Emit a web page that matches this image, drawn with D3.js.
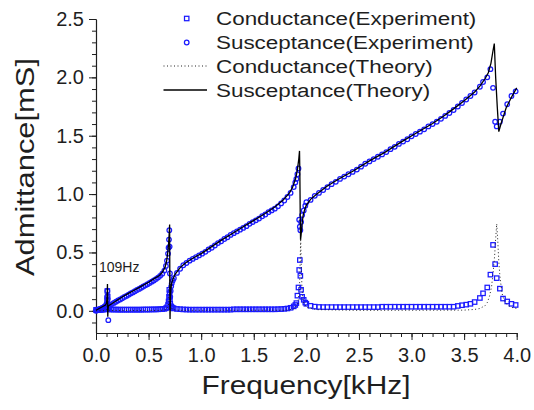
<!DOCTYPE html>
<html><head><meta charset="utf-8">
<script src="https://cdn.jsdelivr.net/npm/d3@7"></script>
<style>html,body{margin:0;padding:0;background:#fff;} svg{display:block;font-family:"Liberation Sans",Arial,sans-serif;}</style>
</head><body><svg id="c" width="534" height="410"></svg>
<script>
// ---------- DATA ----------
const xTickLabels = ["0.0","0.5","1.0","1.5","2.0","2.5","3.0","3.5","4.0"];
const yTickLabels = ["0.0","0.5","1.0","1.5","2.0","2.5"];
const seriesNames = ["Conductance(Experiment)","Susceptance(Experiment)","Conductance(Theory)","Susceptance(Theory)"];
const annotation = "109Hz";

// Theory susceptance (kHz, mS)
const thBFreq = [0.00,0.03,0.06,0.09,0.100,0.104,0.107,0.109,0.110,0.111,0.112,0.114,0.117,0.12,0.15,0.20,0.26,0.30,0.35,0.42,0.50,0.56,0.60,0.63,0.655,0.67,0.68,0.69,0.697,0.700,0.701,0.703,0.704,0.706,0.708,0.712,0.72,0.735,0.75,0.80,0.85,0.90,0.95,1.00,1.10,1.20,1.30,1.40,1.50,1.60,1.70,1.78,1.84,1.87,1.90,1.915,1.928,1.935,1.938,1.942,1.945,1.950,1.960,1.970,1.985,2.00,2.04,2.10,2.20,2.30,2.45,2.60,2.75,2.90,3.05,3.20,3.30,3.40,3.50,3.60,3.65,3.70,3.73,3.755,3.775,3.787,3.80,3.815,3.830,3.85,3.90,3.95,4.00];
const thB = [0.005,0.02,0.035,0.05,0.065,0.10,0.16,0.23,0.12,0.00,-0.05,0.00,0.035,0.045,0.06,0.09,0.125,0.145,0.17,0.205,0.245,0.28,0.30,0.33,0.37,0.42,0.48,0.57,0.68,0.74,0.5,0.0,-0.07,0.03,0.12,0.19,0.24,0.28,0.31,0.37,0.41,0.44,0.465,0.49,0.55,0.61,0.665,0.72,0.775,0.83,0.89,0.95,1.01,1.06,1.14,1.21,1.30,1.37,1.20,0.80,0.61,0.65,0.75,0.82,0.87,0.905,0.955,1.00,1.07,1.125,1.20,1.285,1.36,1.445,1.525,1.605,1.665,1.73,1.80,1.875,1.925,1.99,2.04,2.12,2.23,2.29,2.0,1.75,1.535,1.60,1.74,1.83,1.91];

// Theory conductance (kHz, mS)
const thGFreq = [0.00,0.09,0.10,0.105,0.108,0.109,0.110,0.112,0.115,0.13,0.60,0.67,0.69,0.697,0.700,0.702,0.704,0.707,0.712,0.73,0.80,1.80,1.88,1.92,1.935,1.942,1.946,1.950,1.958,1.97,2.00,2.10,2.50,3.50,3.60,3.65,3.70,3.72,3.74,3.76,3.775,3.79,3.80,3.81,3.82,3.83,3.84,3.86,3.88,3.91,3.95,4.00];
const thG = [0.0,0.002,0.01,0.05,0.15,0.2,0.15,0.05,0.01,0.003,0.003,0.01,0.05,0.15,0.3,0.35,0.25,0.1,0.03,0.01,0.004,0.005,0.015,0.06,0.2,0.45,0.62,0.45,0.2,0.08,0.03,0.01,0.004,0.006,0.012,0.02,0.045,0.07,0.12,0.2,0.32,0.47,0.62,0.745,0.6,0.42,0.30,0.15,0.09,0.05,0.03,0.02];

// Experiment (kHz)
const expFreq = [
 0.000,0.010,0.020,0.030,0.040,0.050,0.060,0.070,0.080,0.090,
 0.100,0.105,0.108,0.111,0.114,0.117,0.120,
 0.130,0.150,0.170,0.190,0.210,0.230,0.250,0.270,0.290,0.310,0.330,0.350,0.370,0.390,0.410,0.430,0.450,0.470,0.490,0.510,0.530,0.550,0.570,0.590,0.610,0.630,0.650,
 0.665,0.675,0.685,0.690,0.694,0.697,0.700,0.703,0.706,0.710,0.715,0.720,0.730,
 0.74,0.77,0.80,0.83,0.86,0.89,0.92,0.95,0.98,1.01,1.04,1.07,1.10,1.13,1.16,1.19,1.22,1.25,1.28,1.31,1.34,1.37,1.40,1.43,1.46,1.49,1.52,1.55,1.58,1.61,1.64,1.67,1.70,1.73,1.76,1.79,1.82,1.85,1.88,
 1.895,1.905,1.915,1.925,1.932,1.938,1.943,1.950,1.960,1.975,1.990,
 2.00,2.04,2.08,2.12,2.16,2.20,2.24,2.28,2.32,2.36,2.40,2.44,2.48,2.52,2.56,2.60,2.64,2.68,2.72,2.76,2.80,2.84,2.88,2.92,2.96,3.00,3.04,3.08,3.12,3.16,3.20,3.24,3.28,3.32,3.36,3.40,3.44,3.48,3.52,3.56,3.60,
 3.65,3.68,3.72,3.75,3.775,3.795,3.81,3.84,3.87,3.91,3.95,3.99];
// Conductance experiment (mS)
const expG = [
 0.008,0.009,0.009,0.010,0.010,0.010,0.011,0.011,0.012,0.014,
 0.03,0.09,0.17,0.12,0.05,0.025,0.015,
 0.012,0.011,0.011,0.011,0.010,0.010,0.010,0.010,0.010,0.010,0.010,0.010,0.010,0.010,0.010,0.010,0.011,0.011,0.011,0.011,0.012,0.012,0.012,0.013,0.014,0.015,0.017,
 0.022,0.03,0.05,0.08,0.12,0.18,0.15,0.10,0.06,0.04,0.035,0.03,0.025,
 0.02,0.016,0.014,0.012,0.011,0.010,0.010,0.010,0.010,0.010,0.010,0.010,0.010,0.010,0.010,0.010,0.010,0.010,0.010,0.013,0.013,0.013,0.013,0.013,0.013,0.013,0.013,0.013,0.013,0.013,0.013,0.013,0.013,0.014,0.015,0.017,0.02,0.026,0.038,
 0.05,0.066,0.13,0.20,0.35,0.435,0.30,0.18,0.12,0.094,0.07,
 0.06,0.043,0.036,0.033,0.032,0.032,0.032,0.032,0.032,0.032,0.032,0.032,0.032,0.032,0.032,0.032,0.032,0.032,0.035,0.035,0.035,0.035,0.035,0.035,0.035,0.035,0.035,0.035,0.035,0.035,0.035,0.035,0.035,0.035,0.035,0.035,0.042,0.048,0.053,0.06,0.075,
 0.11,0.15,0.20,0.31,0.565,0.40,0.28,0.19,0.105,0.08,0.06,0.05];
// Susceptance experiment (mS)
const expB = [
 0.000,0.004,0.008,0.012,0.016,0.020,0.025,0.030,0.035,0.042,
 0.06,0.12,0.17,0.10,0.03,-0.08,0.04,
 0.048,0.058,0.068,0.078,0.088,0.098,0.108,0.118,0.128,0.138,0.148,0.158,0.168,0.178,0.188,0.198,0.208,0.218,0.228,0.238,0.25,0.26,0.272,0.285,0.30,0.318,0.345,
 0.385,0.43,0.49,0.54,0.61,0.69,0.55,0.32,0.12,0.17,0.21,0.235,0.26,
 0.28,0.325,0.36,0.39,0.41,0.43,0.445,0.46,0.475,0.49,0.505,0.525,0.54,0.56,0.58,0.595,0.615,0.63,0.65,0.665,0.68,0.695,0.71,0.725,0.745,0.76,0.775,0.79,0.81,0.825,0.845,0.86,0.875,0.895,0.92,0.945,0.975,1.01,1.06,
 1.10,1.13,1.17,1.22,0.78,0.72,0.69,0.76,0.82,0.86,0.90,
 0.93,0.95,0.985,1.01,1.035,1.06,1.085,1.105,1.13,1.15,1.17,1.19,1.21,1.235,1.26,1.28,1.30,1.32,1.34,1.36,1.385,1.405,1.43,1.45,1.47,1.495,1.515,1.535,1.555,1.58,1.60,1.62,1.645,1.67,1.695,1.72,1.75,1.78,1.81,1.84,1.87,
 1.92,1.96,2.00,2.07,1.91,1.62,1.58,1.62,1.69,1.77,1.84,1.88];

// ---------- DRAW ----------
const svg = d3.select("#c");
const x = d3.scaleLinear().domain([0,4]).range([96,516.7]);
const y = d3.scaleLinear().domain([-0.19,2.5]).range([333,19]);
const BLUE = "#1a1aff", INK = "#1e1e1e";
const SQ = 4.4, CR = 2.3, MW = 1.25;

const xMajor = xTickLabels.map(Number), yMajor = yTickLabels.map(Number);
const xMinor = d3.range(0, 40.5, 1).map(d => d/10);
const yMinor = d3.range(-1, 25.5, 1).map(d => d/10);

function styleAxis(g){
  g.select(".domain").attr("stroke", INK).attr("stroke-width",1.1);
  g.selectAll(".tick line").attr("stroke", INK).attr("stroke-width",1);
  g.selectAll(".tick text").attr("fill", INK).attr("font-size",20).attr("font-family",'"Liberation Sans",Arial,sans-serif');
}
svg.append("g").attr("transform","translate(0,333)")
  .call(d3.axisBottom(x).tickValues(xMinor).tickSize(4).tickFormat("").tickSizeOuter(0)).call(styleAxis);
svg.append("g").attr("transform","translate(0,333)")
  .call(d3.axisBottom(x).tickValues(xMajor).tickSize(7).tickPadding(8).tickSizeOuter(0)
    .tickFormat((d,i)=>xTickLabels[i])).call(styleAxis);
svg.append("g").attr("transform","translate(96,0)")
  .call(d3.axisLeft(y).tickValues(yMinor).tickSize(4).tickFormat("").tickSizeOuter(0)).call(styleAxis);
svg.append("g").attr("transform","translate(96,0)")
  .call(d3.axisLeft(y).tickValues(yMajor).tickSize(7).tickPadding(5).tickSizeOuter(0)
    .tickFormat((d,i)=>yTickLabels[i])).call(styleAxis);

// experiment markers
const exp = expFreq.map((f,i)=>({f, g:expG[i], b:expB[i]}));
svg.append("g").selectAll("rect").data(exp).join("rect")
  .attr("x", d=>x(d.f)-SQ/2).attr("y", d=>y(d.g)-SQ/2).attr("width",SQ).attr("height",SQ)
  .attr("fill","none").attr("stroke",BLUE).attr("stroke-width",MW);
svg.append("g").selectAll("circle").data(exp).join("circle")
  .attr("cx", d=>x(d.f)).attr("cy", d=>y(d.b)).attr("r",CR)
  .attr("fill","none").attr("stroke",BLUE).attr("stroke-width",MW);

// theory lines
const line = d3.line().x(d=>x(d[0])).y(d=>y(d[1]));
svg.append("path").datum(thGFreq.map((f,i)=>[f,thG[i]])).attr("d",line)
  .attr("fill","none").attr("stroke","#222").attr("stroke-width",1).attr("stroke-dasharray","1,2.5");
svg.append("path").datum(thBFreq.map((f,i)=>[f,thB[i]])).attr("d",line)
  .attr("fill","none").attr("stroke","#000").attr("stroke-width",1.3);

// annotation
svg.append("text").attr("x",99).attr("y",272).attr("font-size",14).attr("fill",INK).text(annotation);

// axis titles
svg.append("text").attr("x",306).attr("y",394).attr("text-anchor","middle")
  .attr("font-size",25).attr("fill",INK).text("Frequency[kHz]")
  .attr("textLength",209).attr("lengthAdjust","spacingAndGlyphs");
svg.append("text").attr("transform","translate(34,167) rotate(-90)").attr("text-anchor","middle")
  .attr("font-size",25).attr("fill",INK).text("Admittance[mS]")
  .attr("textLength",218).attr("lengthAdjust","spacingAndGlyphs");

// legend
const legY = [18.5, 42.5, 66, 90];
const lg = svg.append("g");
seriesNames.forEach((name,i)=>{
  const cy = legY[i];
  if(i===0) lg.append("rect").attr("x",186.7-SQ/2).attr("y",cy-SQ/2).attr("width",SQ).attr("height",SQ)
      .attr("fill","none").attr("stroke",BLUE).attr("stroke-width",MW);
  if(i===1) lg.append("circle").attr("cx",186.7).attr("cy",cy).attr("r",CR)
      .attr("fill","none").attr("stroke",BLUE).attr("stroke-width",MW);
  if(i===2) lg.append("line").attr("x1",163.5).attr("x2",207).attr("y1",cy).attr("y2",cy)
      .attr("stroke","#222").attr("stroke-width",1).attr("stroke-dasharray","1,2.5");
  if(i===3) lg.append("line").attr("x1",163.5).attr("x2",207).attr("y1",cy).attr("y2",cy)
      .attr("stroke","#000").attr("stroke-width",1.3);
  const t = lg.append("text").attr("x",216).attr("y",cy+6.5).attr("font-size",18).attr("fill",INK).text(name);
  const w = t.node().getComputedTextLength();
  t.attr("textLength", w*1.245).attr("lengthAdjust","spacingAndGlyphs");
});
</script></body></html>
